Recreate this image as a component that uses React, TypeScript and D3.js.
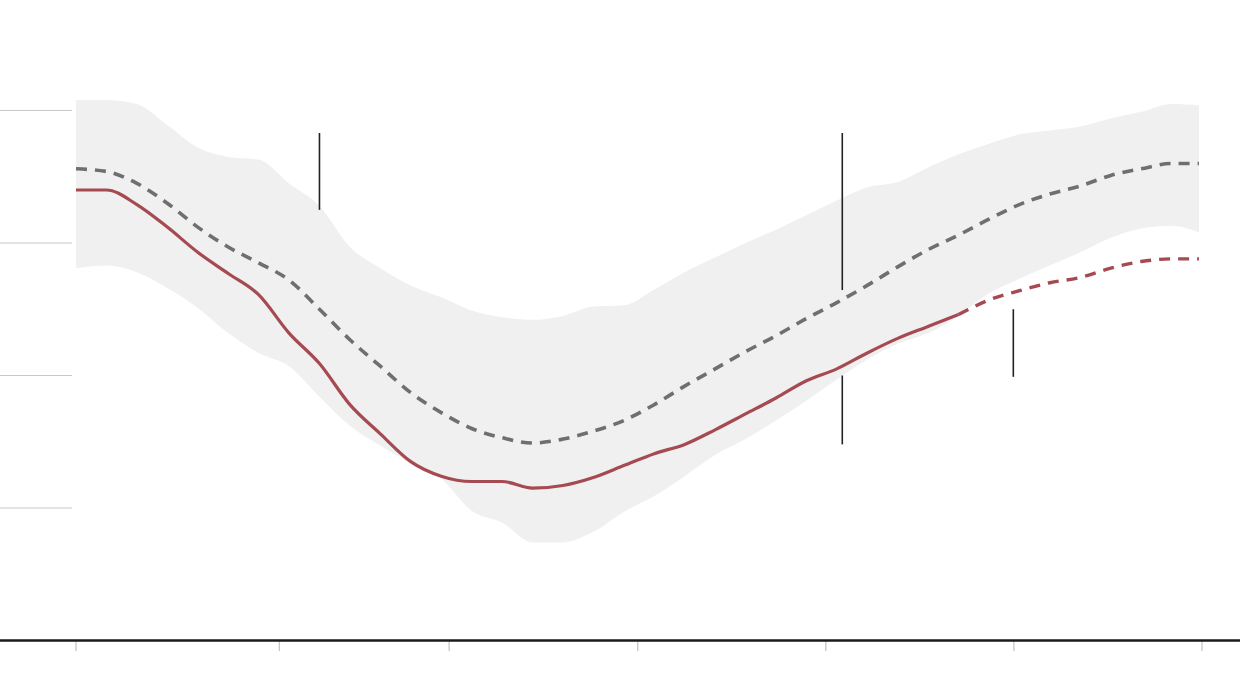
// App.tsx
import React, { useEffect, useRef } from 'react';
import * as d3 from 'd3';

// day index of each sample (every 5 days, last one at the chart's edge)
const days = [
    0, 5, 10, 15, 20, 25, 30, 35, 40, 45, 50, 55, 60, 65, 70, 75, 80, 85, 90,
    95, 100, 105, 110, 115, 120, 125, 130, 135, 140, 145, 150, 155, 160, 165,
    170, 175, 180, 184.5,
];

// historical range (top / bottom of the grey band)
const bandHigh = [
    40.8, 40.8, 40.5, 38.9, 37.2, 36.5, 36.3, 34.5, 32.8, 29.7, 28.1, 26.8, 25.9,
    24.9, 24.4, 24.2, 24.5, 25.2, 25.3, 26.5, 27.8, 28.9, 30.0, 31.0, 32.1, 33.2,
    34.2, 34.6, 35.7, 36.7, 37.5, 38.2, 38.5, 38.8, 39.4, 39.9, 40.5, 40.4,
];
const bandLow = [
    28.1, 28.3, 27.8, 26.6, 25.1, 23.2, 21.7, 20.7, 18.4, 16.2, 14.7, 13.4, 12.2,
    9.8, 8.9, 7.4, 7.4, 8.2, 9.7, 10.9, 12.4, 14.0, 15.2, 16.6, 18.1, 19.7, 21.2,
    22.4, 23.2, 24.5, 26.2, 27.3, 28.3, 29.3, 30.4, 31.1, 31.3, 30.8,
];

// historical average (grey dashed)
const average = [
    35.6, 35.4, 34.5, 33.0, 31.2, 29.7, 28.5, 27.2, 25.0, 22.7, 20.7, 18.7, 17.2,
    16.0, 15.3, 14.9, 15.2, 15.8, 16.6, 17.8, 19.2, 20.5, 21.8, 23.0, 24.3, 25.5,
    26.8, 28.2, 29.5, 30.6, 31.8, 32.9, 33.7, 34.3, 35.1, 35.6, 36.0, 36.0,
];

// this year (red), observed up to day 145, projected after
const current = [
    34.0, 34.0, 32.9, 31.2, 29.3, 27.7, 26.1, 23.2, 20.9, 17.8, 15.6, 13.5, 12.4,
    12.0, 12.0, 11.5, 11.7, 12.3, 13.2, 14.1, 14.8, 15.9, 17.1, 18.3, 19.6, 20.5,
    21.7, 22.8, 23.7, 24.6, 25.7, 26.4, 27.0, 27.4, 28.1, 28.6, 28.8, 28.8,
];
const observedUntil = 145;

const gridValues = [10, 20, 30, 40];
const tickDays = [0, 33.4, 61.3, 92.3, 123.2, 154.1, 185];

// annotation rules: day, top value, bottom value
const markers = [
    { day: 40, top: 38.3, bottom: 32.5 },
    { day: 125.9, top: 38.3, bottom: 26.45 },
    { day: 125.9, top: 20.0, bottom: 14.8 },
    { day: 154, top: 25.0, bottom: 19.9 },
];

const WIDTH = 1240;
const HEIGHT = 696;

const App: React.FC = () => {
    const svgRef = useRef<SVGSVGElement | null>(null);

    useEffect(() => {
        if (!svgRef.current) return;
        const svg = d3.select(svgRef.current);
        svg.selectAll('*').remove();

        const x = d3.scaleLinear().domain([0, 185]).range([76, 1202]);
        const y = d3.scaleLinear().domain([0, 40]).range([640.5, 110.5]);

        const rows = days.map((d, i) => ({
            day: d,
            high: bandHigh[i],
            low: bandLow[i],
            avg: average[i],
            cur: current[i],
        }));

        // short grid stubs on the left
        svg.append('g')
            .selectAll('line')
            .data(gridValues)
            .join('line')
            .attr('x1', 0)
            .attr('x2', 72)
            .attr('y1', d => y(d))
            .attr('y2', d => y(d))
            .attr('stroke', '#c8c8c8')
            .attr('stroke-width', 1);

        // grey band
        const band = d3.area<typeof rows[0]>()
            .x(d => x(d.day))
            .y0(d => y(d.low))
            .y1(d => y(d.high))
            .curve(d3.curveMonotoneX);
        svg.append('path')
            .datum(rows)
            .attr('d', band)
            .attr('fill', '#f0f0f0');

        // average line
        const avgLine = d3.line<typeof rows[0]>()
            .x(d => x(d.day))
            .y(d => y(d.avg))
            .curve(d3.curveMonotoneX);
        svg.append('path')
            .datum(rows)
            .attr('d', avgLine)
            .attr('fill', 'none')
            .attr('stroke', '#6f6f6f')
            .attr('stroke-width', 3.6)
            .attr('stroke-dasharray', '11 8');

        // current year: solid then dashed projection
        const curLine = d3.line<typeof rows[0]>()
            .x(d => x(d.day))
            .y(d => y(d.cur))
            .curve(d3.curveMonotoneX);
        svg.append('path')
            .datum(rows.filter(d => d.day <= observedUntil))
            .attr('d', curLine)
            .attr('fill', 'none')
            .attr('stroke', '#a64a52')
            .attr('stroke-width', 3.2);
        svg.append('path')
            .datum(rows.filter(d => d.day >= observedUntil))
            .attr('d', curLine)
            .attr('fill', 'none')
            .attr('stroke', '#a64a52')
            .attr('stroke-width', 3.4)
            .attr('stroke-dasharray', '11 8');

        // annotation rules
        svg.append('g')
            .selectAll('line')
            .data(markers)
            .join('line')
            .attr('x1', d => x(d.day))
            .attr('x2', d => x(d.day))
            .attr('y1', d => y(d.top))
            .attr('y2', d => y(d.bottom))
            .attr('stroke', '#222')
            .attr('stroke-width', 1.6);

        // baseline + ticks
        svg.append('g')
            .selectAll('line')
            .data(tickDays)
            .join('line')
            .attr('x1', d => x(d))
            .attr('x2', d => x(d))
            .attr('y1', 641)
            .attr('y2', 651)
            .attr('stroke', '#b5b5b5')
            .attr('stroke-width', 1);
        svg.append('line')
            .attr('x1', 0)
            .attr('x2', WIDTH)
            .attr('y1', y(0))
            .attr('y2', y(0))
            .attr('stroke', '#1a1a1a')
            .attr('stroke-width', 2.4);
    }, []);

    return (
        <svg
            ref={svgRef}
            width={WIDTH}
            height={HEIGHT}
            style={{ position: 'absolute', left: 0, top: 0, background: '#fff' }}
        />
    );
};

export default App;
